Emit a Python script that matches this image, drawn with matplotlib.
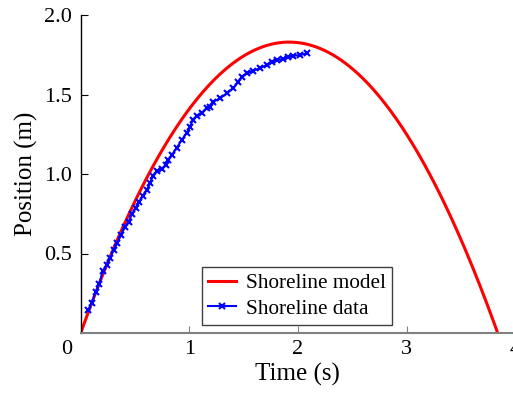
import matplotlib
matplotlib.use("Agg")
import matplotlib.pyplot as plt
import numpy as np

# Shoreline data (time s, position m)
data_t = [0.070, 0.101, 0.138, 0.171, 0.203, 0.239, 0.272, 0.304, 0.337, 0.371,
          0.408, 0.442, 0.472, 0.506, 0.537, 0.571, 0.608, 0.639, 0.663, 0.700,
          0.746, 0.783, 0.807, 0.838, 0.884, 0.930, 0.976, 1.006, 1.031, 1.068,
          1.114, 1.160, 1.191, 1.221, 1.283, 1.344, 1.405, 1.451, 1.483, 1.529,
          1.589, 1.651, 1.713, 1.759, 1.805, 1.866, 1.912, 1.958, 2.019, 2.081]
data_y = [0.145, 0.189, 0.258, 0.308, 0.390, 0.428, 0.474, 0.522, 0.566, 0.616,
          0.667, 0.700, 0.748, 0.786, 0.824, 0.862, 0.899, 0.943, 0.987, 1.019,
          1.031, 1.057, 1.088, 1.119, 1.164, 1.214, 1.258, 1.296, 1.340, 1.365,
          1.384, 1.415, 1.423, 1.455, 1.476, 1.507, 1.539, 1.580, 1.612, 1.633,
          1.650, 1.665, 1.686, 1.707, 1.717, 1.723, 1.738, 1.744, 1.748, 1.759]

# Shoreline model: y = v0*t - half_g*t^2
model_v0 = 1.906
model_half_g = 0.4964
model_t_end = 3.84

x_ticks = [1, 2, 3, 4]
x_tick_labels = ["1", "2", "3", "4"]
y_ticks = [0.5, 1.0, 1.5, 2.0]
y_tick_labels = ["0.5", "1.0", "1.5", "2.0"]

plt.rcParams['font.family'] = ['Liberation Serif', 'DejaVu Serif']

fig = plt.figure(figsize=(5.13, 3.99), dpi=100)
ax = fig.add_axes([80.7/513, 66/399, 434.4/513, 318/399])

model_t = np.linspace(0, model_t_end, 300)
model_y = model_v0*model_t - model_half_g*model_t**2
ax.plot(model_t, model_y, color='#ff0000', lw=2.2, label='Shoreline model', zorder=2)
ax.plot(data_t, data_y, color='#0000ff', lw=1.5, marker='x', ms=4, mew=1.5,
        label='Shoreline data', zorder=3)

ax.set_xlim(0, 4)
ax.set_ylim(0, 2.0)
ax.set_xticks(x_ticks)
ax.set_xticklabels(x_tick_labels)
ax.set_yticks(y_ticks)
ax.set_yticklabels(y_tick_labels)
ax.tick_params(direction='in', labelsize=16, length=5)
ax.tick_params(axis='x', color='#808080', pad=5)
ax.tick_params(axis='y', color='black', pad=6)
ax.spines['top'].set_visible(False)
ax.spines['right'].set_visible(False)
ax.spines['bottom'].set_color('#808080')
ax.spines['bottom'].set_linewidth(1.5)
ax.spines['left'].set_color('black')
ax.spines['left'].set_linewidth(1.0)

ax.annotate("0", xy=(0, 0), xycoords='data', xytext=(-10, -5), textcoords='offset points',
            ha='center', va='top', fontsize=16)

ax.set_xlabel("Time (s)", fontsize=18, labelpad=3)
ax.set_ylabel("Position (m)", fontsize=18, labelpad=5)

leg = ax.legend(loc='lower center', bbox_to_anchor=(0.498, 0.025), fontsize=15.3,
                frameon=True, fancybox=False, borderaxespad=0, handlelength=1.3,
                handletextpad=0.45, edgecolor='#404040', framealpha=1,
                borderpad=0.3, labelspacing=0.25)
leg.get_frame().set_linewidth(1.0)

fig.savefig("out.png", dpi=100)
